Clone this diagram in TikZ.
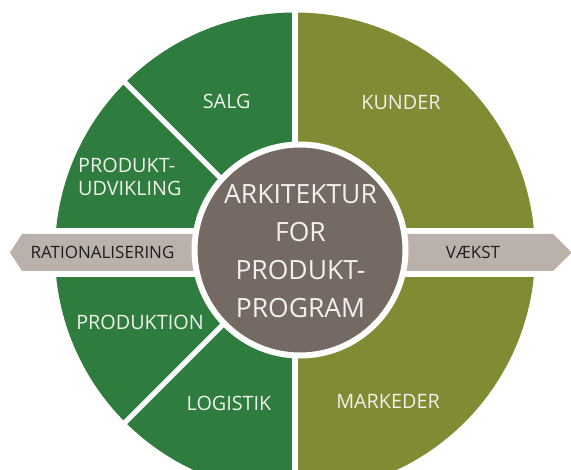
\documentclass[tikz,border=0pt]{standalone}
\usepackage{fontspec}
\setmainfont{Open Sans}
\definecolor{sgreen}{RGB}{46,124,62}
\definecolor{solive}{RGB}{129,139,52}
\definecolor{sbrown}{RGB}{117,106,99}
\definecolor{sgray}{RGB}{186,177,171}
\definecolor{stext}{RGB}{240,240,236}
\definecolor{darktext}{RGB}{30,30,30}
\begin{document}
\begin{tikzpicture}[x=1pt,y=-1pt,
  seclabel/.style={text=stext, font=\fontsize{19.8}{23}\selectfont, inner sep=0pt, anchor=base},
  arrlabel/.style={text=darktext, font=\fontsize{17}{20}\selectfont, inner sep=0pt, anchor=base},
  ctrlabel/.style={text=stext, font=\fontsize{26.5}{38}\selectfont, inner sep=0pt, anchor=base},
  gapline/.style={white, line width=5pt},
  arrowshape/.style={fill=sgray}]
\clip (0,0) rectangle (571,470);
\fill[white] (0,0) rectangle (571,470);
% outer disc
\begin{scope}
  \clip (295,252.5) circle [radius=240pt];
  \fill[sgreen] (0,0) rectangle (295,500);
  \fill[solive] (295,0) rectangle (571,500);
\end{scope}
% white gaps
\fill[white] (40,228) rectangle (550,277);
\fill[white] (292,0) rectangle (298,470);
\draw[gapline] (295,252.5) -- (70,27.5);
\draw[gapline] (295,252.5) -- (70,477.5);
% arrows
\fill[arrowshape] (300,234) -- (22,234) -- (10,252.5) -- (22,271) -- (300,271) -- cycle;
\fill[arrowshape] (300,234) -- (553,234) -- (571.5,252.5) -- (553,271) -- (300,271) -- cycle;
% centre disc
\fill[sbrown, draw=white, line width=6pt] (300,250) circle [radius=105.5pt];
% labels
\node[ctrlabel] (c1) at (300.5,204) {ARKITEKTUR};
\node[ctrlabel] (c2) at (300.5,241.7) {FOR};
\node[ctrlabel] (c3) at (300.5,280) {PRODUKT-};
\node[ctrlabel] (c4) at (300.5,318) {PROGRAM};
\node[seclabel] (salg) at (226.7,108.7) {SALG};
\node[seclabel, anchor=base west] (pu1) at (78,173) {PRODUKT-};
\node[seclabel, anchor=base west] (pu2) at (78,196) {UDVIKLING};
\node[seclabel] (kunder) at (401,109.3) {KUNDER};
\node[seclabel] (produktion) at (140,330) {PRODUKTION};
\node[seclabel] (logistik) at (229,411) {LOGISTIK};
\node[seclabel] (markeder) at (388,409) {MARKEDER};
\node[arrlabel] (rat) at (102.5,259) {RATIONALISERING};
\node[arrlabel] (vaekst) at (473,259) {VÆKST};
\end{tikzpicture}
\end{document}
